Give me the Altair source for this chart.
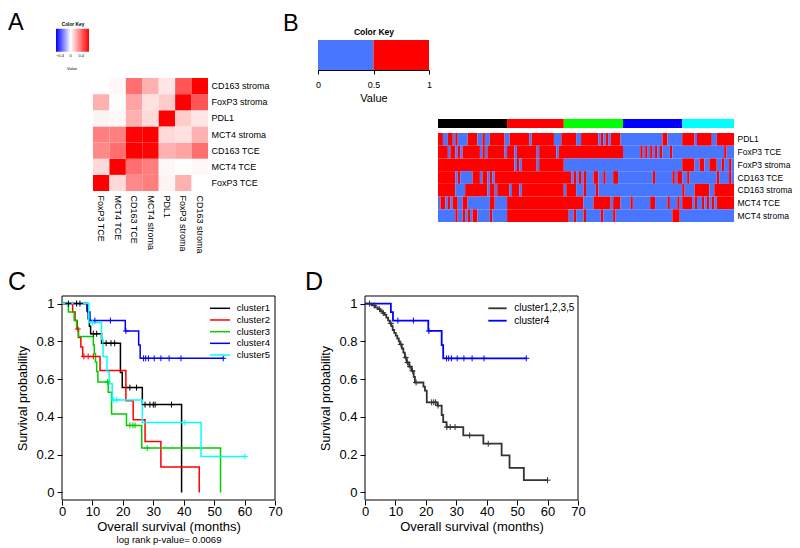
import altair as alt
import pandas as pd

FONT = "Liberation Sans"
W, H = 784, 538

# ---------------- Panel A : correlation heatmap ----------------
A_LABELS = ["FoxP3 TCE", "MCT4 TCE", "CD163 TCE", "MCT4 stroma", "PDL1", "FoxP3 stroma", "CD163 stroma"]
A_CORR = [
    [1.00, 0.10, 0.32, 0.35, 0.03, 0.21, 0.00],
    [0.10, 1.00, 0.39, 0.35, 0.02, 0.00, 0.02],
    [0.32, 0.39, 1.00, 0.68, 0.21, 0.25, 0.39],
    [0.35, 0.35, 0.68, 1.00, 0.10, 0.08, 0.21],
    [0.03, 0.02, 0.21, 0.10, 1.00, 0.14, 0.07],
    [0.21, 0.00, 0.25, 0.08, 0.14, 1.00, 0.46],
    [0.00, 0.02, 0.39, 0.21, 0.07, 0.46, 1.00],
]
A_KEY_DOMAIN = [-0.55, 0, 0.69]
A_KEY_TICKS = [-0.4, 0, 0.4]

# ---------------- Panel B : binary heatmap ----------------
B_ROWS = ["PDL1", "FoxP3 TCE", "FoxP3 stroma", "CD163 TCE", "CD163 stroma", "MCT4 TCE", "MCT4 stroma"]
B_START = [1, 1, 1, 1, 1, 0, 0]
B_RUNS = [
    [2, 2, 2, 1, 1, 4, 4, 2, 1, 2, 6, 2, 8, 1, 9, 3, 6, 2, 7, 1, 1, 1, 1, 1, 4, 17, 2, 6, 5, 1, 6, 2, 7],
    [4, 1, 2, 1, 1, 1, 7, 1, 1, 1, 7, 1, 3, 1, 8, 1, 7, 1, 26, 7, 1, 1, 1, 1, 1, 1, 1, 1, 1, 3, 1, 21, 1, 3],
    [31, 1, 1, 1, 6, 1, 10, 48, 5, 2, 2, 2, 3, 2, 1, 2, 1, 1],
    [7, 1, 1, 5, 3, 1, 2, 1, 1, 1, 31, 1, 1, 1, 1, 1, 1, 3, 2, 2, 1, 3, 2, 14, 1, 7, 1, 1, 2, 2, 1, 11, 1, 4, 1, 1],
    [7, 4, 9, 1, 2, 1, 5, 1, 3, 1, 17, 1, 4, 3, 1, 4, 1, 34, 1, 4, 6, 2, 8],
    [1, 2, 1, 1, 1, 2, 2, 2, 9, 2, 5, 31, 4, 7, 1, 3, 4, 1, 7, 2, 5, 1, 3, 1, 1, 4, 1, 1, 2, 1, 1, 1, 1, 1, 1, 7],
    [7, 1, 2, 1, 1, 1, 1, 2, 5, 1, 6, 25, 2, 1, 3, 1, 6, 1, 4, 1, 23, 3, 22],
]
B_CLUSTERS = ["cluster1", "cluster2", "cluster3", "cluster4", "cluster5"]
B_CLUSTER_SIZES = [28, 23, 24, 24, 21]
B_KEY_TICKS = [0, 0.5, 1]

# ---------------- Panel C : survival by cluster ----------------
C_NAMES = ["cluster1", "cluster2", "cluster3", "cluster4", "cluster5"]
C_TIMES = [
    [0, 8.2, 8.6, 9.0, 9.4, 13.0, 19.2, 19.8, 26.4, 39.3],
    [0, 3.5, 4.3, 5.0, 5.4, 6.2, 6.8, 12.5, 21.0, 23.4, 27.3, 32.5, 45.1],
    [0, 2.1, 4.0, 4.8, 5.4, 10.3, 10.6, 11.0, 11.4, 11.8, 15.2, 16.3, 21.2, 26.2, 52.1],
    [0, 8.5, 9.2, 20.8, 25.2, 25.7],
    [0, 8.8, 13.0, 13.5, 14.8, 15.5, 16.5, 26.4, 45.7],
]
C_SURV = [
    [1, 0.96, 0.92, 0.88, 0.84, 0.79, 0.635, 0.555, 0.465, 0.0],
    [1, 0.955, 0.91, 0.865, 0.82, 0.77, 0.72, 0.645, 0.485, 0.385, 0.27, 0.135, 0.0],
    [1, 0.955, 0.91, 0.87, 0.825, 0.78, 0.735, 0.69, 0.64, 0.585, 0.53, 0.415, 0.355, 0.235, 0.0],
    [1, 0.955, 0.91, 0.855, 0.78, 0.71],
    [1, 0.9, 0.81, 0.72, 0.64, 0.575, 0.49, 0.37, 0.19],
]
C_END = [None, None, None, 53.0, 60.1]
C_CENSOR = [
    [2.1, 4.8, 5.9, 10.3, 11.4, 14.5, 16.1, 17.3, 22.3, 24.5, 27.3, 28.9, 30.0, 30.6, 36.0],
    [5.2, 7.2, 8.6, 10.3],
    [15.0, 22.3, 23.3, 24.0, 28.0],
    [10.8, 15.9, 21.0, 26.8, 27.5, 28.4, 30.3, 32.5, 35.2, 39.1, 53.0],
    [10.0, 17.0, 18.0, 40.4, 60.1],
]
C_COLORS = ["#000000", "#FF0000", "#00CC00", "#0000FF", "#00FFFF"]

# ---------------- Panel D : cluster4 vs rest ----------------
D_NAMES = ["cluster1,2,3,5", "cluster4"]
D_TIMES = [
    [0, 2.2, 3.3, 4.2, 5.0, 5.8, 6.4, 7.0, 7.6, 8.2, 8.7, 9.1, 9.6, 10.1, 10.6, 11.1, 11.5, 12.1, 12.6,
     13.1, 13.7, 14.5, 15.3, 16.0, 16.4, 19.2, 19.7, 20.3, 23.8, 25.2, 25.7, 26.8, 32.3, 38.9, 44.9, 47.5, 52.2],
    C_TIMES[3],
]
D_SURV = [
    [1, 0.99, 0.98, 0.97, 0.96, 0.95, 0.94, 0.925, 0.91, 0.895, 0.88, 0.86, 0.845, 0.83, 0.815, 0.80, 0.784,
     0.762, 0.74, 0.714, 0.688, 0.666, 0.644, 0.612, 0.582, 0.56, 0.539, 0.477, 0.46, 0.41, 0.372, 0.346,
     0.302, 0.258, 0.196, 0.13, 0.065],
    C_SURV[3],
]
D_END = [60.0, 53.0]
D_CENSOR = [
    [1.5, 3.0, 4.8, 6.0, 8.5, 11.8, 13.4, 14.0, 14.8, 15.6, 16.8, 21.9, 22.6, 23.2, 24.0, 26.9, 28.0, 29.6,
     34.4, 40.5, 60.0],
    C_CENSOR[3],
]
D_COLORS = ["#333333", "#0000FF"]

XLIM = [0, 70]
YLIM = [-0.04, 1.04]
X_TICKS = [0, 10, 20, 30, 40, 50, 60, 70]
Y_TICKS = [0, 0.2, 0.4, 0.6, 0.8, 1]

PLUS = "M0,-1L0,1M-1,0L1,0"


def text_layer(txt, x, y, size, weight="normal", align="left", baseline="alphabetic"):
    return alt.Chart(pd.DataFrame({"txt": [txt]})).mark_text(
        align=align, baseline=baseline, fontSize=size, fontWeight=weight, font=FONT, color="black"
    ).encode(x=alt.value(x), y=alt.value(y), text="txt:N")


layers = []

# ---- Panel A
recs = []
for i, rl in enumerate(A_LABELS):
    for j, cl in enumerate(A_LABELS):
        recs.append({"row": rl, "col": cl, "v": A_CORR[i][j]})
dfA = pd.DataFrame(recs)
heatA = alt.Chart(dfA).mark_rect().encode(
    x=alt.X("col:N", scale=alt.Scale(domain=A_LABELS, range=[85, 200], paddingInner=0, paddingOuter=0),
            axis=alt.Axis(orient="bottom", offset=183 - H, labelAngle=90, labelAlign="left",
                          labelBaseline="middle", ticks=False, domain=False, labelPadding=4,
                          labelFontSize=9, title=None)),
    y=alt.Y("row:N", scale=alt.Scale(domain=A_LABELS[::-1], range=[70, 183], paddingInner=0, paddingOuter=0),
            axis=alt.Axis(orient="right", offset=200 - W, ticks=False, domain=False, labelPadding=3,
                          labelFontSize=9, title=None, labelAlign="left", labelBaseline="middle")),
    color=alt.Color("v:Q",
                    scale=alt.Scale(domain=A_KEY_DOMAIN, range=["#0000FF", "#FFFFFF", "#FF0000"],
                                    clamp=True, interpolate="rgb"),
                    legend=alt.Legend(orient="none", legendX=48, legendY=14, direction="horizontal",
                                      gradientLength=33, gradientThickness=23, title="Color Key",
                                      titleFontSize=4.8, titleFontWeight="bold", titleAnchor="middle",
                                      titlePadding=2, values=A_KEY_TICKS, labelFontSize=4,
                                      labelOverlap=False, format="~g", gradientStrokeWidth=0)),
)
layers += [heatA, text_layer("Value", 64, 62, 4, align="center"), text_layer("A", 0, 21.5, 23.5)]

# ---- Panel B
dfBkey = pd.DataFrame({"lo": [0, 0.5], "hi": [0.5, 1], "v": [0, 1]})
keyB = alt.Chart(dfBkey).mark_rect().encode(
    x=alt.X("lo:Q", scale=alt.Scale(domain=[0, 1], range=[310, 421], nice=False, zero=False),
            axis=alt.Axis(orient="bottom", offset=62 - H, values=B_KEY_TICKS, format="~g", tickSize=4,
                          labelPadding=6, labelFontSize=9, title="Value", titleFontSize=11,
                          titleFontWeight="normal", titlePadding=3, labelFlush=False, grid=False)),
    x2="hi:Q",
    y=alt.value(32), y2=alt.value(62),
    color=alt.Color("v:N", scale=alt.Scale(domain=[0, 1], range=["#4876FF", "#FF0000"]), legend=None),
)
recs = []
for r, name in enumerate(B_ROWS):
    v = B_START[r]
    pos = 0
    for n in B_RUNS[r]:
        recs.append({"row": name, "x0": pos, "x1": pos + n, "v": v})
        pos += n
        v = 1 - v
dfB = pd.DataFrame(recs)
NCOL = sum(B_CLUSTER_SIZES)
bx = alt.Scale(domain=[0, NCOL], range=[430, 726], nice=False, zero=False)
heatB = alt.Chart(dfB).mark_rect().encode(
    x=alt.X("x0:Q", scale=bx, axis=None), x2="x1:Q",
    y=alt.Y("row:N", scale=alt.Scale(domain=B_ROWS, range=[125, 214], paddingInner=0, paddingOuter=0),
            axis=alt.Axis(orient="right", offset=726 - W, ticks=False, domain=False, labelPadding=3,
                          labelFontSize=8.5, title=None, labelAlign="left", labelBaseline="middle")),
    color=alt.Color("v:N", scale=alt.Scale(domain=[0, 1], range=["#4876FF", "#FF0000"]), legend=None),
)
cs, pos = [], 0
for name, n in zip(B_CLUSTERS, B_CLUSTER_SIZES):
    cs.append({"g": name, "x0": pos, "x1": pos + n})
    pos += n
barB = alt.Chart(pd.DataFrame(cs)).mark_rect().encode(
    x=alt.X("x0:Q", scale=bx, axis=None), x2="x1:Q",
    y=alt.value(111), y2=alt.value(120),
    color=alt.Color("g:N", scale=alt.Scale(domain=B_CLUSTERS,
                                           range=["#000000", "#FF0000", "#00FF00", "#0000FF", "#00FFFF"]),
                    legend=None),
)
layers += [keyB, heatB, barB, text_layer("Color Key", 366, 27, 8.5, weight="bold", align="center"),
           text_layer("B", 275, 23, 23.5)]


# ---- KM panels
def surv_at(ts, ss, c):
    s = ss[0]
    for t, v in zip(ts, ss):
        if t <= c:
            s = v
    return s


def km_panel(names, times, survs, ends, censors, colors, xr, lw, leg_rule, leg_text_x, leg_y, leg_font):
    xs = alt.Scale(domain=XLIM, range=xr, nice=False, zero=False)
    ys = alt.Scale(domain=YLIM, range=[492, 288], nice=False, zero=False)
    col = alt.Color("g:N", scale=alt.Scale(domain=names, range=colors), legend=None)
    rows, cens = [], []
    for name, ts, ss, end, cc in zip(names, times, survs, ends, censors):
        for k, (t, s) in enumerate(zip(ts, ss)):
            rows.append({"g": name, "t": t, "s": s, "i": k})
        if end is not None:
            rows.append({"g": name, "t": end, "s": ss[-1], "i": len(ts)})
        for c in cc:
            cens.append({"g": name, "t": c, "s": surv_at(ts, ss, c)})
    box = alt.Chart(pd.DataFrame({"x0": [XLIM[0]], "x1": [XLIM[1]], "y0": [YLIM[0]], "y1": [YLIM[1]]})).mark_rect(
        fillOpacity=0, stroke="black", strokeWidth=1).encode(
        x=alt.X("x0:Q", scale=xs, axis=None), x2="x1:Q",
        y=alt.Y("y0:Q", scale=ys, axis=None), y2="y1:Q")
    lines = alt.Chart(pd.DataFrame(rows)).mark_line(interpolate="step-after", strokeWidth=lw).encode(
        x=alt.X("t:Q", scale=xs,
                axis=alt.Axis(orient="bottom", offset=492 - H, values=X_TICKS, tickSize=5, labelPadding=0,
                              labelFontSize=13, title="Overall survival (months)", titleFontSize=13,
                              titleFontWeight="normal", titlePadding=2, domain=False, labelFlush=False,
                              grid=False)),
        y=alt.Y("s:Q", scale=ys,
                axis=alt.Axis(orient="left", offset=-xr[0], values=Y_TICKS, format="~g", tickSize=5,
                              labelPadding=3, labelFontSize=13, title="Survival probability",
                              titleFontSize=12.5, titleFontWeight="normal", titlePadding=6, domain=False,
                              grid=False)),
        color=col, order="i:Q", detail="g:N")
    pts = alt.Chart(pd.DataFrame(cens)).mark_point(shape=PLUS, size=36, filled=False, strokeWidth=1,
                                                    opacity=1).encode(
        x=alt.X("t:Q", scale=xs, axis=None), y=alt.Y("s:Q", scale=ys, axis=None), color=col)
    ly = alt.Y("g:N", scale=alt.Scale(type="point", domain=names, range=leg_y, padding=0), axis=None)
    lgdf = pd.DataFrame({"g": names})
    lrule = alt.Chart(lgdf).mark_rule(strokeWidth=lw).encode(
        x=alt.value(leg_rule[0]), x2=alt.value(leg_rule[1]), y=ly, color=col)
    ltext = alt.Chart(lgdf).mark_text(align="left", baseline="middle", fontSize=leg_font, font=FONT,
                                      color="black").encode(x=alt.value(leg_text_x), y=ly, text="g:N")
    return [box, lines, pts, lrule, ltext]


layers += km_panel(C_NAMES, C_TIMES, C_SURV, C_END, C_CENSOR, C_COLORS, [54, 267], 1.5,
                   [202, 222], 228.7, [300.3, 347], 9.5)
layers += km_panel(D_NAMES, D_TIMES, D_SURV, D_END, D_CENSOR, D_COLORS, [357, 570], 1.8,
                   [480.3, 498.7], 506.3, [300.3, 312.7], 10)
layers += [text_layer("C", 0, 282, 25), text_layer("D", 297, 282, 25),
           text_layer("log rank p-value= 0.0069", 161, 535, 9.5, align="center")]

chart = alt.layer(*layers).resolve_scale(
    x="independent", y="independent", color="independent"
).properties(width=W, height=H, autosize="none", padding=0).configure_view(stroke=None).configure_axis(
    labelColor="black", titleColor="black", tickColor="black", domainColor="black",
    labelFont=FONT, titleFont=FONT
).configure_legend(labelFont=FONT, titleFont=FONT, labelColor="black", titleColor="black")

chart.save("out.html", embed_options={"renderer": "svg", "actions": False})
